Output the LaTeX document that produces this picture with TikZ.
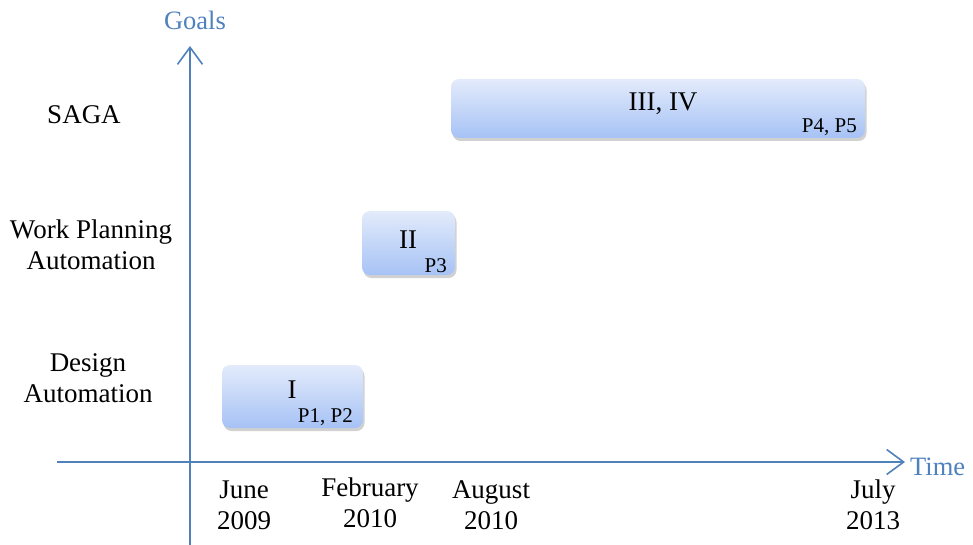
\documentclass[tikz,border=0pt]{standalone}
\usepackage{fontspec}
\setmainfont{Liberation Serif}
\usetikzlibrary{arrows.meta,shadows}
\definecolor{axisblue}{HTML}{4F81BD}
\definecolor{bartop}{HTML}{E3EBFB}
\definecolor{barbot}{HTML}{A6C2F5}
\begin{document}
\begin{tikzpicture}[x=1pt,y=-1pt,
  axis/.style={draw=axisblue,line width=1.6pt,-{Straight Barb[length=17pt,width=25pt,line width=1.6pt]}},
  axislabel/.style={text=axisblue,font=\fontsize{26.5}{30}\selectfont,inner sep=0pt},
  rowlabel/.style={align=center,font=\fontsize{27}{31}\selectfont,inner sep=0pt},
  datelabel/.style={align=center,font=\fontsize{27}{31}\selectfont,inner sep=0pt},
  phase/.style={rounded corners=8pt,top color=bartop,bottom color=barbot,draw=none,
    drop shadow={shadow xshift=1.5pt,shadow yshift=-3pt,opacity=0.3,fill=black!60}},
  phasetitle/.style={font=\fontsize{27}{30}\selectfont,inner sep=0pt},
  paper/.style={font=\fontsize{21}{24}\selectfont,inner sep=0pt,anchor=east}]
\useasboundingbox (0,0) rectangle (973,545);

% axes
\coordinate (yb) at (190,545);
\coordinate (yt) at (190,46);
\coordinate (xl) at (57,462);
\coordinate (xr) at (905,462);
\draw[axis] (yb) -- (yt);
\draw[axis] (xl) -- (xr);
\node[axislabel] (goals) at (195,20) {Goals};
\node[axislabel,anchor=west] (time) at (910,467) {Time};

% row labels
\node[rowlabel] (saga) at (84,115) {SAGA};
\node[rowlabel] (wpa) at (91,245) {Work Planning\\Automation};
\node[rowlabel] (da) at (88,378) {Design\\Automation};

% date labels
\node[datelabel] (d1) at (244,505) {June\\2009};
\node[datelabel] (d2) at (370,503) {February\\2010};
\node[datelabel] (d3) at (491,505) {August\\2010};
\node[datelabel] (d4) at (873,505) {July\\2013};

% phases
\path[phase] (222,365) rectangle (363,428);
\node[phasetitle] (p1) at (292,390) {I};
\node[paper] (p1r) at (353,417) {P1, P2};

\path[phase] (362,211) rectangle (455,275);
\node[phasetitle] (p2) at (408,240) {II};
\node[paper] (p2r) at (447,266) {P3};

\path[phase] (451,79) rectangle (865,138);
\node[phasetitle] (p3) at (663,104) {III, IV};
\node[paper] (p3r) at (857,127) {P4, P5};
\end{tikzpicture}
\end{document}
